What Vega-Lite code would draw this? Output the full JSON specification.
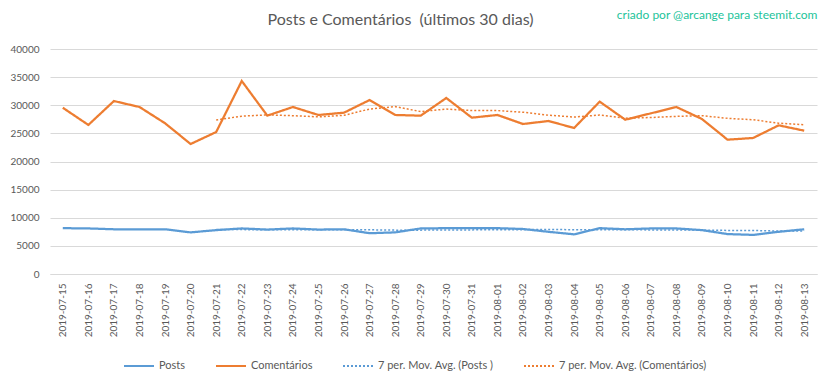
{
  "$schema": "https://vega.github.io/schema/vega-lite/v6.json",
  "width": 767,
  "height": 225,
  "autosize": {"type": "none"},
  "padding": {"left": 50, "top": 49, "right": 15, "bottom": 104},
  "background": "white",
  "title": {"text": "Posts e Comentários \u00a0(últimos 30 dias)", "font": "Lato", "fontSize": 16, "fontWeight": "normal", "color": "#595959", "anchor": "middle", "dx": -33, "offset": -20},
  "config": {
    "view": {"stroke": null},
    "font": "Lato",
    "axis": {"labelFont": "Lato", "labelColor": "#595959", "titleFont": "Lato"},
    "axisY": {"title": null, "values": [0, 5000, 10000, 15000, 20000, 25000, 30000, 35000, 40000], "format": "d", "labelFontSize": 10, "labelPadding": 11, "labelOverlap": false, "ticks": false, "domain": false, "gridColor": "#d9d9d9", "gridWidth": 1},
    "legend": {"labelFont": "Lato"}
  },
  "data": {"values": [
    {"d":"2019-07-15","s":"Posts","v":8150},{"d":"2019-07-16","s":"Posts","v":8100},{"d":"2019-07-17","s":"Posts","v":7950},{"d":"2019-07-18","s":"Posts","v":7950},{"d":"2019-07-19","s":"Posts","v":7950},{"d":"2019-07-20","s":"Posts","v":7400},{"d":"2019-07-21","s":"Posts","v":7800},{"d":"2019-07-22","s":"Posts","v":8100},{"d":"2019-07-23","s":"Posts","v":7900},{"d":"2019-07-24","s":"Posts","v":8100},{"d":"2019-07-25","s":"Posts","v":7900},{"d":"2019-07-26","s":"Posts","v":7950},{"d":"2019-07-27","s":"Posts","v":7250},{"d":"2019-07-28","s":"Posts","v":7400},{"d":"2019-07-29","s":"Posts","v":8100},{"d":"2019-07-30","s":"Posts","v":8150},{"d":"2019-07-31","s":"Posts","v":8150},{"d":"2019-08-01","s":"Posts","v":8150},{"d":"2019-08-02","s":"Posts","v":8000},{"d":"2019-08-03","s":"Posts","v":7500},{"d":"2019-08-04","s":"Posts","v":7050},{"d":"2019-08-05","s":"Posts","v":8150},{"d":"2019-08-06","s":"Posts","v":7950},{"d":"2019-08-07","s":"Posts","v":8100},{"d":"2019-08-08","s":"Posts","v":8100},{"d":"2019-08-09","s":"Posts","v":7800},{"d":"2019-08-10","s":"Posts","v":7100},{"d":"2019-08-11","s":"Posts","v":6950},{"d":"2019-08-12","s":"Posts","v":7500},{"d":"2019-08-13","s":"Posts","v":7950},
    {"d":"2019-07-15","s":"Comentários","v":29560},{"d":"2019-07-16","s":"Comentários","v":26500},{"d":"2019-07-17","s":"Comentários","v":30750},{"d":"2019-07-18","s":"Comentários","v":29690},{"d":"2019-07-19","s":"Comentários","v":26800},{"d":"2019-07-20","s":"Comentários","v":23110},{"d":"2019-07-21","s":"Comentários","v":25240},{"d":"2019-07-22","s":"Comentários","v":34310},{"d":"2019-07-23","s":"Comentários","v":28150},{"d":"2019-07-24","s":"Comentários","v":29690},{"d":"2019-07-25","s":"Comentários","v":28270},{"d":"2019-07-26","s":"Comentários","v":28680},{"d":"2019-07-27","s":"Comentários","v":30930},{"d":"2019-07-28","s":"Comentários","v":28270},{"d":"2019-07-29","s":"Comentários","v":28150},{"d":"2019-07-30","s":"Comentários","v":31290},{"d":"2019-07-31","s":"Comentários","v":27790},{"d":"2019-08-01","s":"Comentários","v":28270},{"d":"2019-08-02","s":"Comentários","v":26670},{"d":"2019-08-03","s":"Comentários","v":27200},{"d":"2019-08-04","s":"Comentários","v":25960},{"d":"2019-08-05","s":"Comentários","v":30640},{"d":"2019-08-06","s":"Comentários","v":27430},{"d":"2019-08-07","s":"Comentários","v":28560},{"d":"2019-08-08","s":"Comentários","v":29690},{"d":"2019-08-09","s":"Comentários","v":27560},{"d":"2019-08-10","s":"Comentários","v":23880},{"d":"2019-08-11","s":"Comentários","v":24180},{"d":"2019-08-12","s":"Comentários","v":26430},{"d":"2019-08-13","s":"Comentários","v":25480},
    {"d":"2019-07-21","s":"7 per. Mov. Avg. (Posts )","v":7900},{"d":"2019-07-22","s":"7 per. Mov. Avg. (Posts )","v":7893},{"d":"2019-07-23","s":"7 per. Mov. Avg. (Posts )","v":7864},{"d":"2019-07-24","s":"7 per. Mov. Avg. (Posts )","v":7886},{"d":"2019-07-25","s":"7 per. Mov. Avg. (Posts )","v":7879},{"d":"2019-07-26","s":"7 per. Mov. Avg. (Posts )","v":7879},{"d":"2019-07-27","s":"7 per. Mov. Avg. (Posts )","v":7857},{"d":"2019-07-28","s":"7 per. Mov. Avg. (Posts )","v":7800},{"d":"2019-07-29","s":"7 per. Mov. Avg. (Posts )","v":7800},{"d":"2019-07-30","s":"7 per. Mov. Avg. (Posts )","v":7836},{"d":"2019-07-31","s":"7 per. Mov. Avg. (Posts )","v":7843},{"d":"2019-08-01","s":"7 per. Mov. Avg. (Posts )","v":7879},{"d":"2019-08-02","s":"7 per. Mov. Avg. (Posts )","v":7886},{"d":"2019-08-03","s":"7 per. Mov. Avg. (Posts )","v":7921},{"d":"2019-08-04","s":"7 per. Mov. Avg. (Posts )","v":7871},{"d":"2019-08-05","s":"7 per. Mov. Avg. (Posts )","v":7879},{"d":"2019-08-06","s":"7 per. Mov. Avg. (Posts )","v":7850},{"d":"2019-08-07","s":"7 per. Mov. Avg. (Posts )","v":7843},{"d":"2019-08-08","s":"7 per. Mov. Avg. (Posts )","v":7836},{"d":"2019-08-09","s":"7 per. Mov. Avg. (Posts )","v":7807},{"d":"2019-08-10","s":"7 per. Mov. Avg. (Posts )","v":7750},{"d":"2019-08-11","s":"7 per. Mov. Avg. (Posts )","v":7736},{"d":"2019-08-12","s":"7 per. Mov. Avg. (Posts )","v":7643},{"d":"2019-08-13","s":"7 per. Mov. Avg. (Posts )","v":7643},
    {"d":"2019-07-21","s":"7 per. Mov. Avg. (Comentários)","v":27379},{"d":"2019-07-22","s":"7 per. Mov. Avg. (Comentários)","v":28057},{"d":"2019-07-23","s":"7 per. Mov. Avg. (Comentários)","v":28293},{"d":"2019-07-24","s":"7 per. Mov. Avg. (Comentários)","v":28141},{"d":"2019-07-25","s":"7 per. Mov. Avg. (Comentários)","v":27939},{"d":"2019-07-26","s":"7 per. Mov. Avg. (Comentários)","v":28207},{"d":"2019-07-27","s":"7 per. Mov. Avg. (Comentários)","v":29324},{"d":"2019-07-28","s":"7 per. Mov. Avg. (Comentários)","v":29757},{"d":"2019-07-29","s":"7 per. Mov. Avg. (Comentários)","v":28877},{"d":"2019-07-30","s":"7 per. Mov. Avg. (Comentários)","v":29326},{"d":"2019-07-31","s":"7 per. Mov. Avg. (Comentários)","v":29054},{"d":"2019-08-01","s":"7 per. Mov. Avg. (Comentários)","v":29054},{"d":"2019-08-02","s":"7 per. Mov. Avg. (Comentários)","v":28767},{"d":"2019-08-03","s":"7 per. Mov. Avg. (Comentários)","v":28234},{"d":"2019-08-04","s":"7 per. Mov. Avg. (Comentários)","v":27904},{"d":"2019-08-05","s":"7 per. Mov. Avg. (Comentários)","v":28260},{"d":"2019-08-06","s":"7 per. Mov. Avg. (Comentários)","v":27709},{"d":"2019-08-07","s":"7 per. Mov. Avg. (Comentários)","v":27819},{"d":"2019-08-08","s":"7 per. Mov. Avg. (Comentários)","v":28021},{"d":"2019-08-09","s":"7 per. Mov. Avg. (Comentários)","v":28149},{"d":"2019-08-10","s":"7 per. Mov. Avg. (Comentários)","v":27674},{"d":"2019-08-11","s":"7 per. Mov. Avg. (Comentários)","v":27420},{"d":"2019-08-12","s":"7 per. Mov. Avg. (Comentários)","v":26819},{"d":"2019-08-13","s":"7 per. Mov. Avg. (Comentários)","v":26540}
  ]},
  "layer": [
    {
      "transform": [{"filter": {"field": "s", "oneOf": ["Posts", "Comentários"]}}],
      "mark": {"type": "line", "strokeWidth": 2.25},
      "encoding": {
        "x": {"field": "d", "type": "ordinal", "axis": {"orient": "bottom", "title": null, "labelAngle": -90, "labelFontSize": 10, "labelPadding": 9, "ticks": false, "domainColor": "#d9d9d9", "domainWidth": 1, "grid": false, "labelOverlap": false}},
        "y": {"field": "v", "type": "quantitative", "scale": {"domain": [0, 40000], "nice": false}},
        "color": {"field": "s", "type": "nominal", "scale": {"domain": ["Posts", "Comentários", "7 per. Mov. Avg. (Posts )", "7 per. Mov. Avg. (Comentários)"], "range": ["#5b9bd5", "#ed7d31", "#5b9bd5", "#ed7d31"]},
          "legend": {"title": null, "orient": "none", "legendX": 73, "legendY": 301, "direction": "horizontal", "symbolType": "stroke", "symbolSize": 900, "symbolStrokeWidth": 2, "labelFontSize": 11, "labelColor": "#595959", "labelOffset": 4, "columnPadding": 26}},
        "strokeDash": {"field": "s", "type": "nominal", "scale": {"domain": ["Posts", "Comentários", "7 per. Mov. Avg. (Posts )", "7 per. Mov. Avg. (Comentários)"], "range": [[1, 0], [1, 0], [2, 2], [2, 2]]},
          "legend": {"title": null}}
      }
    },
    {
      "transform": [{"filter": {"field": "s", "oneOf": ["7 per. Mov. Avg. (Posts )", "7 per. Mov. Avg. (Comentários)"]}}],
      "mark": {"type": "line", "strokeWidth": 1.5},
      "encoding": {
        "x": {"field": "d", "type": "ordinal", "axis": {"orient": "top", "title": "criado por @arcange para steemit.com", "titleAnchor": "end", "titleColor": "#22c39a", "titleFontSize": 12, "titleFontWeight": "normal", "titlePadding": 28, "labels": false, "ticks": false, "domain": false, "grid": false}},
        "y": {"field": "v", "type": "quantitative"},
        "color": {"field": "s", "type": "nominal"},
        "strokeDash": {"field": "s", "type": "nominal"}
      }
    }
  ]
}
